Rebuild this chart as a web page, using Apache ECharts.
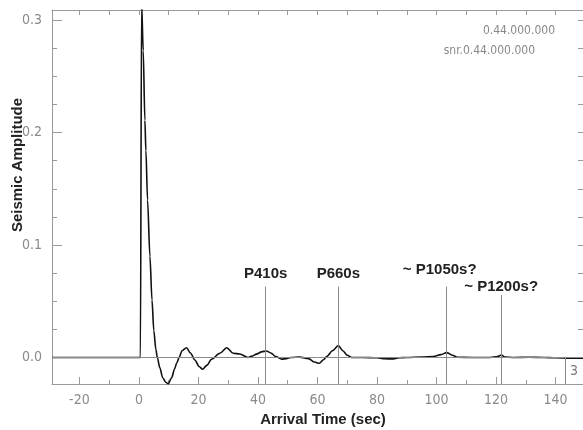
<!DOCTYPE html>
<html>
<head>
<meta charset="utf-8">
<script src="https://cdn.jsdelivr.net/npm/echarts@6/dist/echarts.min.js"></script>
<style>
  html, body { margin: 0; padding: 0; background: #fff; }
  #main { width: 583px; height: 430px; }
</style>
</head>
<body>
<div id="main"></div>
<script>
// waveform (time in s, amplitude)
var timeSec = [-29.2, 0.5, 0.9, 1.45, 2.0, 2.35, 2.9, 3.7, 4.4, 5.0, 5.7, 6.2,
  7.0, 8.0, 9.0, 9.85, 11.0, 12.0, 12.7, 13.5, 14.5, 16.0, 17.3, 18.8, 20.2, 21.4,
  22.8, 24.4, 27.2, 29.5, 31.7, 33.9, 36.7, 38.0, 39.5, 41.2, 42.8, 44.3, 46.0,
  48.0, 49.5, 51.0, 54.0, 57.0, 59.0, 60.6, 62.0, 63.2, 65.0, 67.0, 68.5, 70.0,
  71.5, 75.0, 80.0, 82.5, 85.0, 87.5, 90.0, 95.0, 99.0, 101.5, 103.4, 105.3,
  107.0, 112.0, 118.0, 120.5, 121.8, 123.0, 126.0, 131.0, 136.0, 140.0, 145.0, 149.2];
var amplitude = [0, 0, 0.315, 0.273, 0.211, 0.184, 0.14, 0.09, 0.051, 0.024, 0.007, 0,
  -0.009, -0.018, -0.022, -0.0235, -0.018, -0.01, -0.005, 0, 0.006, 0.0087, 0.004, -0.0022, -0.008, -0.0105,
  -0.007, -0.0016, 0.0037, 0.0087, 0.0037, 0.0031, 0, 0.0012, 0.003, 0.005, 0.0058, 0.004, 0.0008,
  -0.0015, -0.001, 0, 0.0003, -0.001, -0.004, -0.0052, -0.002, 0.001, 0.006, 0.0105, 0.006, 0.002,
  0, 0, -0.0003, -0.0012, -0.0013, -0.0003, 0, 0.0003, 0.0008, 0.0025, 0.0043, 0.002,
  0.0002, 0, 0, 0.0008, 0.0022, 0.0003, 0, 0.0002, 0, -0.0003, -0.0007, -0.0007];

// phase picks
var phaseTimes = [42.6, 67.0, 103.4, 121.7];
var phaseTops = [0.063, 0.063, 0.063, 0.0556];
var phaseLabels = ['P410s', 'P660s', '~ P1050s?', '~ P1200s?'];

// axes
var xMin = -29.2, xMax = 149.2;
var yMin = -0.0236, yMax = 0.309;
var xMajorTicks = [-20, 0, 20, 40, 60, 80, 100, 120, 140];
var xMinorTicks = [-10, 10, 30, 50, 70, 90, 110, 130];
var xAllTicks = [-20, -10, 0, 10, 20, 30, 40, 50, 60, 70, 80, 90, 100, 110, 120, 130, 140];
var yMajorTicks = [0, 0.1, 0.2, 0.3];
var yMinorTicks = [0.025, 0.05, 0.075, 0.125, 0.15, 0.175, 0.225, 0.25, 0.275];
var yAllTicks = [0, 0.025, 0.05, 0.075, 0.1, 0.125, 0.15, 0.175, 0.2, 0.225, 0.25, 0.275, 0.3];

var grey = '#9a9a9a';
var tickFont = "'Liberation Sans Narrow', 'DejaVu Sans Condensed', sans-serif";
var boldFont = "'Liberation Sans', Arial, sans-serif";

var myChart = echarts.init(document.getElementById('main'));

function tickAxis(pos, values, len, opts) {
    var a = {
        type: 'value', position: pos, min: opts.min, max: opts.max,
        axisLine: {show: opts.line, onZero: false, lineStyle: {color: grey, width: 1}},
        axisTick: {show: true, inside: true, length: len, customValues: values,
            lineStyle: {color: grey, width: 1}},
        axisLabel: {show: false},
        splitLine: {show: false}
    };
    return a;
}

var xLab = tickAxis('bottom', xMajorTicks, 7, {min: xMin, max: xMax, line: true});
xLab.axisLabel = {show: true, customValues: xMajorTicks, margin: 9, color: '#8a8a8a',
    fontSize: 14, fontFamily: tickFont};
xLab.name = 'Arrival Time (sec)';
xLab.nameLocation = 'middle';
xLab.nameGap = 27;
xLab.nameTextStyle = {fontSize: 15, fontWeight: 'bold', color: '#222', fontFamily: boldFont,
    padding: [0, 0, 0, 11]};

var yLab = tickAxis('left', yMajorTicks, 10, {min: yMin, max: yMax, line: true});
yLab.axisLabel = {show: true, customValues: yMajorTicks, margin: 10, color: '#8a8a8a',
    fontSize: 14, fontFamily: tickFont,
    formatter: function (v) { return v.toFixed(1); }};
yLab.name = 'Seismic Amplitude';
yLab.nameLocation = 'middle';
yLab.nameGap = 27;
yLab.nameMoveOverlap = false;
yLab.nameTextStyle = {fontSize: 15, fontWeight: 'bold', color: '#222', fontFamily: boldFont,
    padding: [0, 0, 0, 64]};

var phaseLines = phaseTimes.map(function (t, i) {
    var lab = {show: true, position: 'end', formatter: phaseLabels[i], fontSize: 15,
        fontWeight: 'bold', color: '#222', fontFamily: boldFont};
    if (i === 2) { lab.offset = [-7, -4]; }
    if (i === 3) { lab.distance = 1; }
    return [{coord: [t, yMin], label: lab}, {coord: [t, phaseTops[i]]}];
});

option = {
    animation: false,
    grid: {left: 52, right: 0, top: 10, bottom: 46, containLabel: false,
        outerBoundsMode: 'none'},
    xAxis: [
        xLab,
        tickAxis('bottom', xMinorTicks, 4, {min: xMin, max: xMax, line: false}),
        tickAxis('top', xAllTicks, 5, {min: xMin, max: xMax, line: true})
    ],
    yAxis: [
        yLab,
        tickAxis('left', yMinorTicks, 5, {min: yMin, max: yMax, line: false}),
        tickAxis('right', yAllTicks, 5, {min: yMin, max: yMax, line: false})
    ],
    graphic: [
        {type: 'text', right: 28, top: 25, style: {text: '0.44.000.000', fill: '#888',
            font: "12px 'Liberation Sans Narrow', 'DejaVu Sans Condensed', sans-serif"}},
        {type: 'text', right: 48, top: 45, style: {text: 'snr.0.44.000.000', fill: '#888',
            font: "12px 'Liberation Sans Narrow', 'DejaVu Sans Condensed', sans-serif"}},
        {type: 'text', right: 5, top: 364, style: {text: '3', fill: '#777',
            font: "14px 'Liberation Sans Narrow', 'DejaVu Sans Condensed', sans-serif"}}
    ],
    series: [
        {
            name: 'zero',
            type: 'line',
            data: [],
            silent: true,
            markLine: {
                symbol: 'none', silent: true, animation: false,
                label: {show: false},
                lineStyle: {color: '#8a8a8a', width: 1, type: 'solid'},
                data: [
                    {yAxis: 0},
                    [{coord: [143.2, yMin]}, {coord: [143.2, 0]}]
                ].concat(phaseLines)
            }
        },
        {
            name: 'waveform',
            type: 'line',
            data: timeSec.map(function (t, i) { return [t, amplitude[i]]; }),
            showSymbol: false,
            smooth: 0.3,
            smoothMonotone: 'x',
            clip: true,
            lineStyle: {color: '#111', width: 1.6}
        }
    ]
};

myChart.setOption(option);
</script>
</body>
</html>
